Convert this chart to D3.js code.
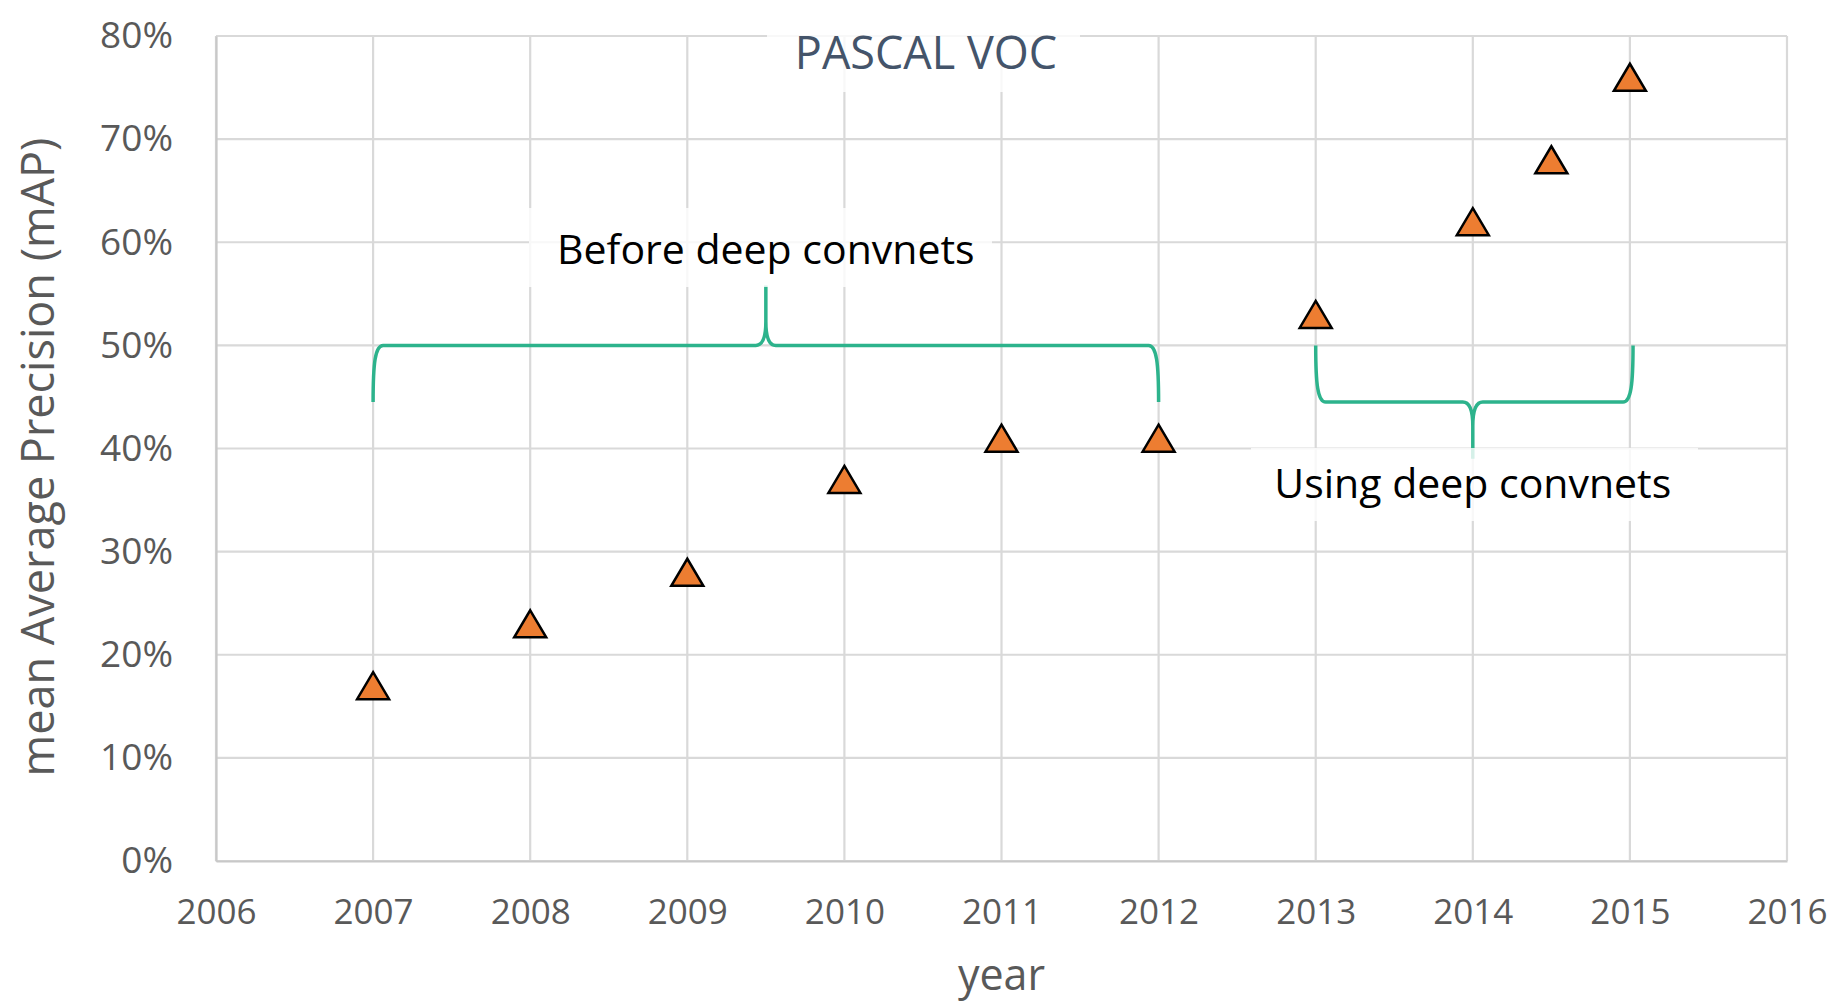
<!DOCTYPE html>
<html>
<head>
<meta charset="utf-8">
<script src="https://cdn.jsdelivr.net/npm/d3@7"></script>
<style>
  body { margin: 0; background: #fff; }
  text { font-family: "Open Sans", sans-serif; }
</style>
</head>
<body>
<div id="chart"></div>
<script>
// data
var years = [2007, 2008, 2009, 2010, 2011, 2012, 2013, 2014, 2014.5, 2015];
var mAP = [0.17, 0.23, 0.28, 0.37, 0.41, 0.41, 0.53, 0.62, 0.68, 0.76];
var xTicks = [2006, 2007, 2008, 2009, 2010, 2011, 2012, 2013, 2014, 2015, 2016];
var yTicks = [0, 0.1, 0.2, 0.3, 0.4, 0.5, 0.6, 0.7, 0.8];

// the two curly braces: start, end, middle year, bar level, foot level, tip level
var braceLabels = ["Before deep convnets", "Using deep convnets"];
var braceStart = [2007, 2013];
var braceEnd = [2012, 2015.02];
var braceMid = [2009.5, 2014];
var braceBar = [0.50, 0.445];
var braceFoot = [0.445, 0.50];
var braceTip = [0.558, 0.39];

var W = 1836, H = 1003;
var margin = {top: 36, right: 49, bottom: 142, left: 216},
    width = W - margin.left - margin.right,
    height = H - margin.top - margin.bottom;

var svg = d3.select("#chart")
  .append("svg")
  .attr("width", W)
  .attr("height", H)
  .append("g")
  .attr("transform", "translate(" + margin.left + "," + margin.top + ")");

var x = d3.scaleLinear().domain([2006, 2016]).range([0, width]);
var y = d3.scaleLinear().domain([0, 0.8]).range([height, 0]);

var grey = "#595959";

// gridlines
svg.append("g")
  .selectAll("line")
  .data(yTicks)
  .enter().append("line")
  .attr("x1", 0).attr("x2", width)
  .attr("y1", d => y(d)).attr("y2", d => y(d))
  .style("stroke", "#d9d9d9").style("stroke-width", 2.2);

svg.append("g")
  .selectAll("line")
  .data(xTicks)
  .enter().append("line")
  .attr("x1", d => x(d)).attr("x2", d => x(d))
  .attr("y1", 0).attr("y2", height)
  .style("stroke", "#d9d9d9").style("stroke-width", 2.2);

// axes (lines only, labels come from the tick format)
var xAxis = svg.append("g")
  .attr("transform", "translate(0," + height + ")")
  .call(d3.axisBottom(x).tickValues(xTicks).tickFormat(d3.format("d")).tickSize(0).tickPadding(38));
var yAxis = svg.append("g")
  .call(d3.axisLeft(y).tickValues(yTicks).tickFormat(d3.format(".0%")).tickSize(0).tickPadding(43));

[xAxis, yAxis].forEach(function(a) {
  a.select(".domain").style("stroke", "#c8c8c8").style("stroke-width", 2.2);
  a.selectAll("text")
    .style("font-family", "'Open Sans', sans-serif")
    .style("fill", grey);
});
xAxis.selectAll("text").style("font-size", "35px");
yAxis.selectAll("text").style("font-size", "37px");

// braces
function bracePath(i) {
  var x0 = x(braceStart[i]), x1 = x(braceEnd[i]), xm = x(braceMid[i]);
  var yb = y(braceBar[i]), yf = y(braceFoot[i]), yt = y(braceTip[i]);
  var s = yf > yb ? 1 : -1;   // direction the feet point to
  var r = 10;
  return "M" + x0 + "," + yf +
    " C" + x0 + "," + (yb + s * 18) + " " + (x0 + 2) + "," + yb + " " + (x0 + r) + "," + yb +
    " L" + (xm - r) + "," + yb +
    " C" + (xm - 3) + "," + yb + " " + xm + "," + (yb - s * 8) + " " + xm + "," + (yb - s * 24) +
    " L" + xm + "," + yt +
    " M" + xm + "," + (yb - s * 24) +
    " C" + xm + "," + (yb - s * 8) + " " + (xm + 3) + "," + yb + " " + (xm + r) + "," + yb +
    " L" + (x1 - r) + "," + yb +
    " C" + (x1 - 2) + "," + yb + " " + x1 + "," + (yb + s * 18) + " " + x1 + "," + yf;
}

svg.append("g")
  .selectAll("path")
  .data(braceLabels)
  .enter().append("path")
  .attr("d", (d, i) => bracePath(i))
  .style("fill", "none")
  .style("stroke", "#2db38c")
  .style("stroke-width", 3.5);

// label boxes (semi transparent, like the text boxes in the original)
var boxes = [
  {x: 767, y: 35, w: 313, h: 57},
  {x: 529, y: 208, w: 463, h: 79},
  {x: 1251, y: 448, w: 447, h: 73}
];
svg.append("g")
  .selectAll("rect")
  .data(boxes)
  .enter().append("rect")
  .attr("x", d => d.x - margin.left)
  .attr("y", d => d.y - margin.top)
  .attr("width", d => d.w)
  .attr("height", d => d.h)
  .style("fill", "#fff")
  .style("opacity", 0.8);

// title
svg.append("text")
  .attr("x", 926 - margin.left)
  .attr("y", 69 - margin.top)
  .attr("text-anchor", "middle")
  .style("font-size", "45px")
  .style("fill", "#44546a")
  .text("PASCAL VOC");

// brace labels
var labelY = [264, 498];
svg.append("g")
  .selectAll("text")
  .data(braceLabels)
  .enter().append("text")
  .attr("x", (d, i) => x(braceMid[i]))
  .attr("y", (d, i) => labelY[i] - margin.top)
  .attr("text-anchor", "middle")
  .style("font-size", "41px")
  .style("fill", "#000")
  .text(d => d);

// markers
var tw = 32, th = 27;
svg.append("g")
  .selectAll("path")
  .data(years)
  .enter().append("path")
  .attr("d", function(d, i) {
    var cx = x(d), cy = y(mAP[i]);
    return "M" + cx + "," + (cy - th / 2) +
      " L" + (cx + tw / 2) + "," + (cy + th / 2) +
      " L" + (cx - tw / 2) + "," + (cy + th / 2) + " Z";
  })
  .style("fill", "#ed7d31")
  .style("stroke", "#000")
  .style("stroke-width", 2.5)
  .style("stroke-linejoin", "miter");

// axis titles
svg.append("text")
  .attr("x", width / 2)
  .attr("y", 990 - margin.top)
  .attr("text-anchor", "middle")
  .style("font-size", "43px")
  .style("fill", grey)
  .text("year");

svg.append("text")
  .attr("transform", "translate(" + (54 - margin.left) + "," + (457 - margin.top) + ") rotate(-90)")
  .attr("text-anchor", "middle")
  .style("font-size", "45px")
  .style("fill", grey)
  .text("mean Average Precision (mAP)");
</script>
</body>
</html>
